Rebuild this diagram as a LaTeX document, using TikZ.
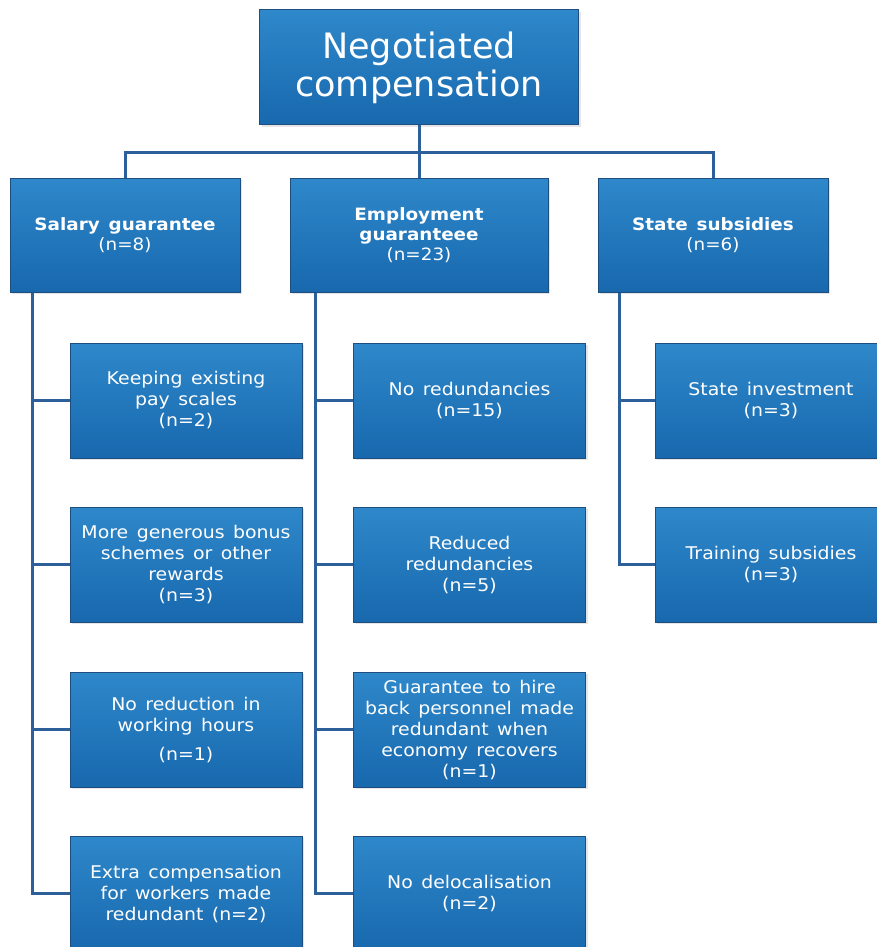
\documentclass[tikz,border=0pt]{standalone}
\usepackage{fontspec}
\setmainfont{DejaVu Sans}
\newfontfamily\boxfont[FakeStretch=1.08, WordSpace=1.4]{DejaVu Sans}
\usetikzlibrary{shadows}

\definecolor{boxtop}{RGB}{46,136,202}
\definecolor{boxbot}{RGB}{24,104,174}
\definecolor{boxedge}{RGB}{30,78,128}
\definecolor{linkblue}{RGB}{45,95,155}

\begin{document}
\begin{tikzpicture}[x=1pt, y=-1pt,
    basebox/.style={rectangle, draw=boxedge, line width=1pt, top color=boxtop, bottom color=boxbot,
        text=white, align=center, inner sep=2pt,
        drop shadow={opacity=0.2, shadow xshift=2pt, shadow yshift=-2pt}},
    titlebox/.style={basebox, minimum width=319pt, minimum height=115pt, font=\fontsize{35}{38}\selectfont},
    headbox/.style={basebox, minimum width=230pt, minimum height=114pt, font=\boxfont\fontsize{17}{20}\selectfont},
    leafbox/.style={basebox, minimum width=232pt, minimum height=115pt, font=\boxfont\fontsize{17.5}{21}\selectfont},
    link/.style={draw=linkblue, line width=3pt}]
    \fill[white] (0,0) rectangle (877,947);
    \useasboundingbox (0,0) rectangle (877,947);

    \node[titlebox] (negot) at (419,67.5) {Negotiated\\compensation};

    \node[headbox] (salary) at (125,235) {\textbf{Salary guarantee}\\(n=8)};
    \node[headbox, minimum width=258pt] (employ) at (419,235) {\textbf{Employment}\\\textbf{guaranteee}\\(n=23)};
    \node[headbox] (state) at (713,235) {\textbf{State subsidies}\\(n=6)};

    \node[leafbox] (keep) at (186,400.5) {Keeping existing\\pay scales\\(n=2)};
    \node[leafbox] (bonus) at (186,564.5) {More generous bonus\\schemes or other\\rewards\\(n=3)};
    \node[leafbox] (hours) at (186,729.5) {No reduction in\\working hours\\[8pt](n=1)};
    \node[leafbox] (extra) at (186,893.5) {Extra compensation\\for workers made\\redundant (n=2)};

    \node[leafbox] (noredund) at (469.5,400.5) {No redundancies\\(n=15)};
    \node[leafbox] (reduced) at (469.5,564.5) {Reduced\\redundancies\\(n=5)};
    \node[leafbox] (rehire) at (469.5,729.5) {Guarantee to hire\\back personnel made\\redundant when\\economy recovers\\(n=1)};
    \node[leafbox] (deloc) at (469.5,893.5) {No delocalisation\\(n=2)};

    \node[leafbox] (invest) at (771,400.5) {State investment\\(n=3)};
    \node[leafbox] (training) at (771,564.5) {Training subsidies\\(n=3)};

    \coordinate (bus) at (419,152);
    \draw[link] (negot.south) -- (bus);
    \draw[link] (salary.north) |- (bus) -| (state.north);
    \draw[link] (bus) -- (employ.north);

    \coordinate (salspine) at ([xshift=23pt]salary.south west);
    \coordinate (empspine) at ([xshift=26pt]employ.south west);
    \coordinate (stspine) at ([xshift=22pt]state.south west);
    \foreach \leaf in {keep,bonus,hours,extra}
        \draw[link] (salspine) |- (\leaf.west);
    \foreach \leaf in {noredund,reduced,rehire,deloc}
        \draw[link] (empspine) |- (\leaf.west);
    \foreach \leaf in {invest,training}
        \draw[link] (stspine) |- (\leaf.west);
\end{tikzpicture}
\end{document}
